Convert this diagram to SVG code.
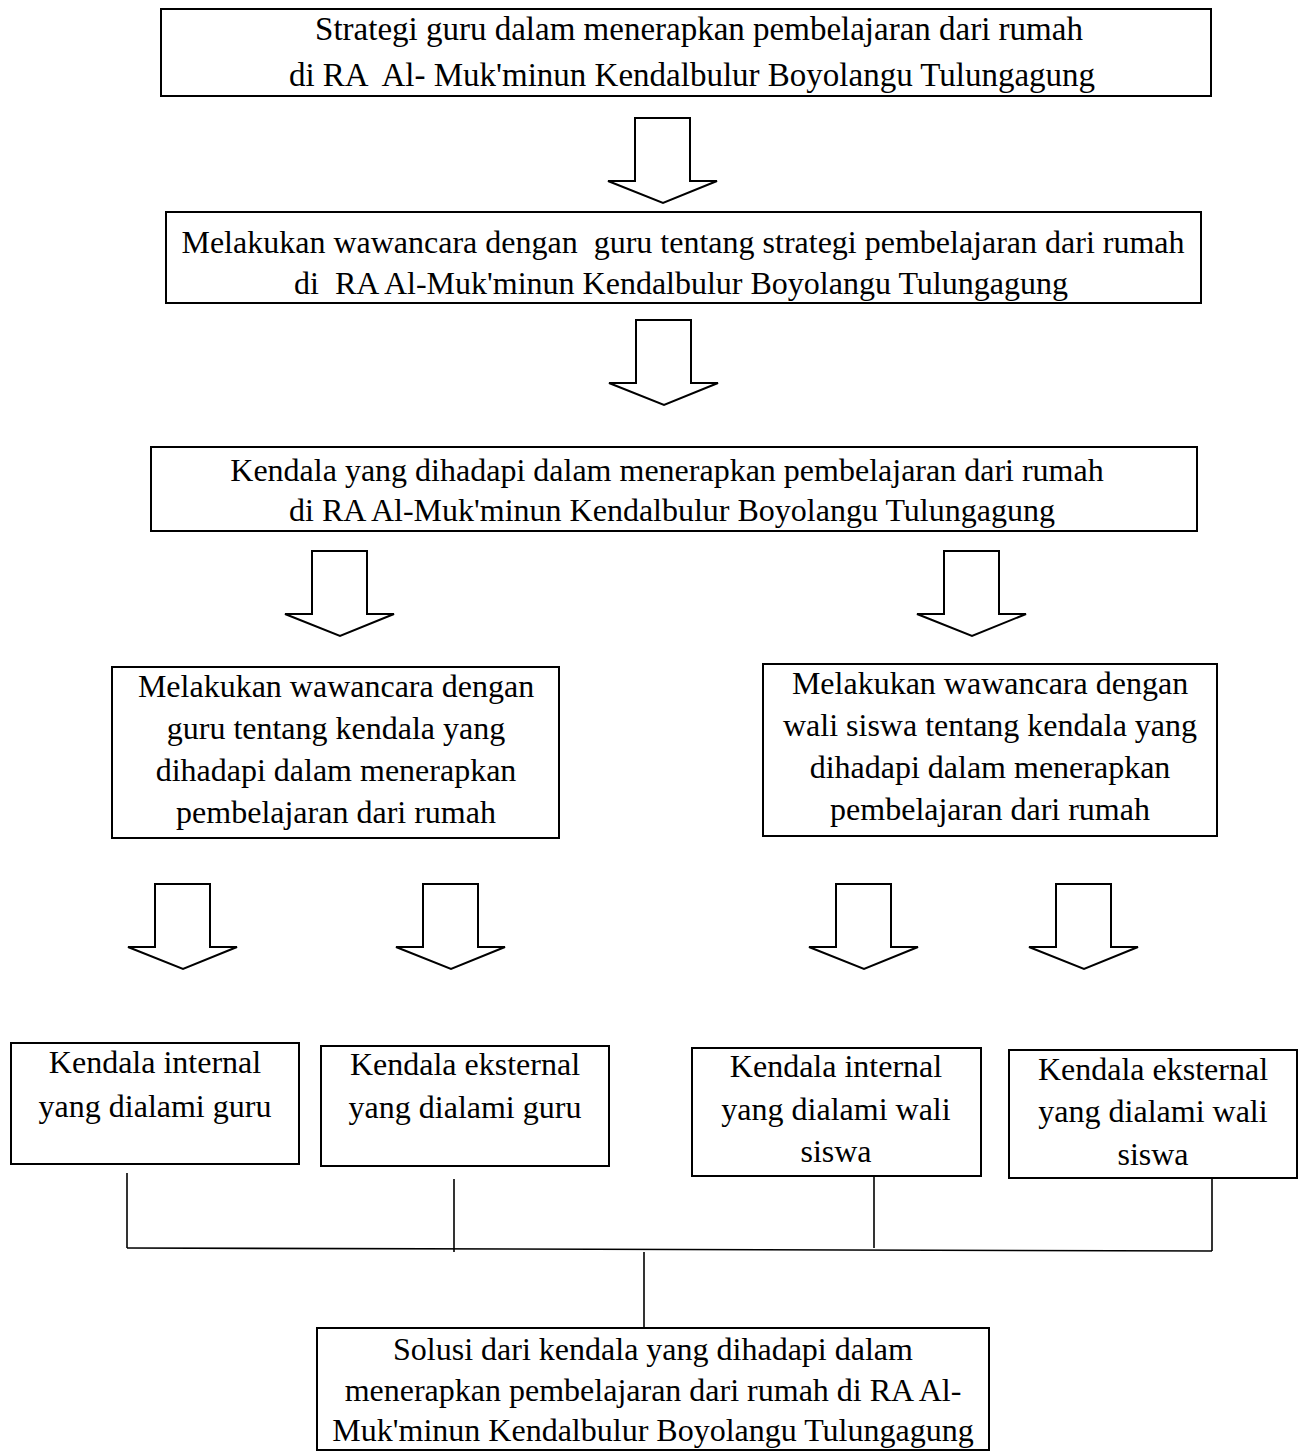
<svg xmlns="http://www.w3.org/2000/svg" width="1303" height="1451" viewBox="0 0 1303 1451">
<style>
.box{fill:#fff;stroke:#000;stroke-width:2}
.arr{fill:#fff;stroke:#000;stroke-width:2;stroke-linejoin:miter}
.t{font-family:"Liberation Serif","Times New Roman",serif;font-size:32px;fill:#000;text-anchor:middle}
.big{font-size:33px}
.ln{stroke:#000;stroke-width:1.6;fill:none}
</style>
<rect width="1303" height="1451" fill="#fff"/>
<defs>
<path id="darrow" d="M0,0 H55 V63 H82 L28,85 L-27,63 H0 Z"/>
</defs>
<g id="connectors">
<use href="#darrow" class="arr" x="635" y="118"/>
<use href="#darrow" class="arr" x="636" y="320"/>
<use href="#darrow" class="arr" x="312" y="551"/>
<use href="#darrow" class="arr" x="944" y="551"/>
<use href="#darrow" class="arr" x="155" y="884"/>
<use href="#darrow" class="arr" x="423" y="884"/>
<use href="#darrow" class="arr" x="836" y="884"/>
<use href="#darrow" class="arr" x="1056" y="884"/>
<line class="ln" x1="127" y1="1173" x2="127" y2="1248"/>
<line class="ln" x1="454" y1="1179" x2="454" y2="1252"/>
<line class="ln" x1="874" y1="1174" x2="874" y2="1248"/>
<line class="ln" x1="1212" y1="1178" x2="1212" y2="1251"/>
<line class="ln" x1="127" y1="1248" x2="1212" y2="1251"/>
<line class="ln" x1="644" y1="1252" x2="644" y2="1328"/>
</g>
<g id="n1">
<rect class="box" x="161" y="9" width="1050" height="87"/>
<text class="t big" x="699" y="40">Strategi guru dalam menerapkan pembelajaran dari rumah</text>
<text class="t big" x="692" y="86" xml:space="preserve">di RA  Al- Muk'minun Kendalbulur Boyolangu Tulungagung</text>
</g>
<g id="n2">
<rect class="box" x="166" y="212" width="1035" height="91"/>
<text class="t" x="683" y="253" xml:space="preserve">Melakukan wawancara dengan  guru tentang strategi pembelajaran dari rumah</text>
<text class="t" x="681" y="294" xml:space="preserve">di  RA Al-Muk'minun Kendalbulur Boyolangu Tulungagung</text>
</g>
<g id="n3">
<rect class="box" x="151" y="447" width="1046" height="84"/>
<text class="t" x="667" y="481">Kendala yang dihadapi dalam menerapkan pembelajaran dari rumah</text>
<text class="t" x="672" y="521">di RA Al-Muk'minun Kendalbulur Boyolangu Tulungagung</text>
</g>
<g id="n4">
<rect class="box" x="112" y="667" width="447" height="171"/>
<text class="t" x="336" y="697">Melakukan wawancara dengan</text>
<text class="t" x="336" y="739">guru tentang kendala yang</text>
<text class="t" x="336" y="781">dihadapi dalam menerapkan</text>
<text class="t" x="336" y="823">pembelajaran dari rumah</text>
</g>
<g id="n5">
<rect class="box" x="763" y="664" width="454" height="172"/>
<text class="t" x="990" y="694">Melakukan wawancara dengan</text>
<text class="t" x="990" y="736">wali siswa tentang kendala yang</text>
<text class="t" x="990" y="778">dihadapi dalam menerapkan</text>
<text class="t" x="990" y="820">pembelajaran dari rumah</text>
</g>
<g id="n6">
<rect class="box" x="11" y="1043" width="288" height="121"/>
<text class="t" x="155" y="1073">Kendala internal</text>
<text class="t" x="155" y="1117">yang dialami guru</text>
</g>
<g id="n7">
<rect class="box" x="321" y="1046" width="288" height="120"/>
<text class="t" x="465" y="1075">Kendala eksternal</text>
<text class="t" x="465" y="1118">yang dialami guru</text>
</g>
<g id="n8">
<rect class="box" x="692" y="1048" width="289" height="128"/>
<text class="t" x="836" y="1077">Kendala internal</text>
<text class="t" x="836" y="1120">yang dialami wali</text>
<text class="t" x="836" y="1162">siswa</text>
</g>
<g id="n9">
<rect class="box" x="1009" y="1050" width="288" height="128"/>
<text class="t" x="1153" y="1080">Kendala eksternal</text>
<text class="t" x="1153" y="1122">yang dialami wali</text>
<text class="t" x="1153" y="1165">siswa</text>
</g>
<g id="n10">
<rect class="box" x="317" y="1328" width="672" height="122"/>
<text class="t" x="653" y="1360">Solusi dari kendala yang dihadapi dalam</text>
<text class="t" x="653" y="1401">menerapkan pembelajaran dari rumah di RA Al-</text>
<text class="t" x="653" y="1441">Muk'minun Kendalbulur Boyolangu Tulungagung</text>
</g>
</svg>
